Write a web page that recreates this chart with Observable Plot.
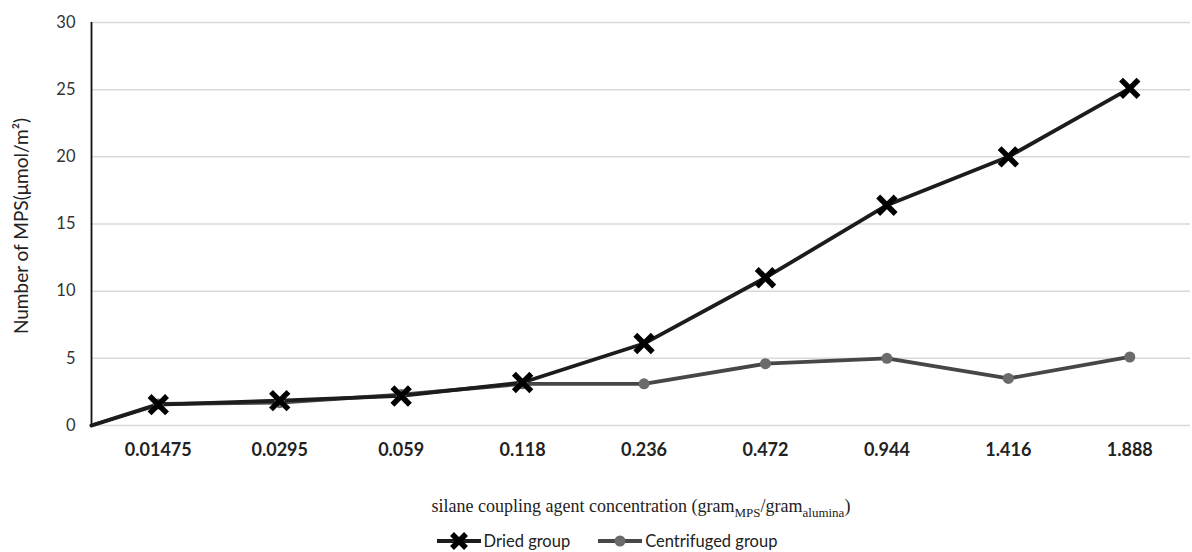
<!DOCTYPE html>
<html>
<head>
<meta charset="utf-8">
<script src="https://cdn.jsdelivr.net/npm/d3@7"></script>
<script src="https://cdn.jsdelivr.net/npm/@observablehq/plot@0.6"></script>
<style>
  html, body { margin: 0; padding: 0; background: #fff; }
  #wrap { width: 1192px; }
  #xtitle { font-family: "Liberation Serif", "Times New Roman", serif; font-size: 18px; color: #222;
            text-align: center; line-height: 22px; height: 22px; margin-top: 25px; padding-left: 90px; box-sizing: border-box; width: 1192px; }
  #xtitle sub { font-size: 13px; vertical-align: -5px; line-height: 0; }
  #legend { font-family: Lato, "Open Sans", sans-serif; font-size: 16.5px; color: #222; display: flex; justify-content: center;
            align-items: center; height: 22px; margin-top: 13px; padding-left: 20px; box-sizing: border-box; width: 1192px; }
  .item { display: flex; align-items: center; margin: 0 13px; }
  .item svg { margin-right: 1px; }
</style>
</head>
<body>
<div id="wrap">
  <div id="chart"></div>
  <div id="xtitle">silane coupling agent concentration (gram<sub>MPS</sub>/gram<sub>alumina</sub>)</div>
  <div id="legend"></div>
</div>
<script>
// ---- data ----
const categories = ["0.01475", "0.0295", "0.059", "0.118", "0.236", "0.472", "0.944", "1.416", "1.888"];
const driedValues = [1.55, 1.85, 2.2, 3.2, 6.1, 11.0, 16.4, 20.0, 25.1];
const centrifugedValues = [1.6, 1.7, 2.3, 3.1, 3.1, 4.6, 5.0, 3.5, 5.1];
const startValue = 0;            // both series begin at zero on the axis
const yTicks = [0, 5, 10, 15, 20, 25, 30];
const seriesNames = ["Dried group", "Centrifuged group"];

// ---- build table ----
const xDomain = [-0.55, 8.5];
const x0 = xDomain[0];
function seriesRows(values, name) {
  return [{i: x0, v: startValue, s: name}].concat(values.map((v, i) => ({i, v, s: name})));
}
const dried = seriesRows(driedValues, seriesNames[0]);
const centrifuged = seriesRows(centrifugedValues, seriesNames[1]);

const font = "Lato, 'Open Sans', sans-serif";

const chart = Plot.plot({
  width: 1192,
  height: 470,
  marginTop: 22,
  marginBottom: 45,
  marginLeft: 91,
  marginRight: 2,
  style: {fontFamily: font, background: "#fff", color: "#333"},
  x: {type: "linear", domain: xDomain, axis: null},
  y: {domain: [0, 30], axis: null},
  marks: [
    Plot.gridY(yTicks, {stroke: "#d9d9d9", strokeOpacity: 1, strokeWidth: 1.5}),
    Plot.ruleX([x0], {y1: 0, y2: 30, stroke: "#111", strokeWidth: 1.8}),
    Plot.axisY(yTicks, {tickSize: 0, tickPadding: 16, fontSize: 16.5, fill: "#333", label: null}),
    Plot.axisX(d3.range(categories.length), {
      tickSize: 0, tickPadding: 18, fontSize: 18, fontWeight: "bold", fill: "#222",
      tickFormat: i => categories[i], label: null
    }),
    Plot.text(["Number of MPS(μmol/m²)"], {
      frameAnchor: "left", textAnchor: "middle", rotate: -90, dx: -70, dy: 2, fontSize: 19, fill: "#222"
    }),
    Plot.line(centrifuged, {x: "i", y: "v", stroke: "#474747", strokeWidth: 3.8}),
    Plot.line(dried, {x: "i", y: "v", stroke: "#1c1c1c", strokeWidth: 3.8}),
    Plot.dot(centrifuged.filter(d => d.i >= 0), {x: "i", y: "v", r: 5.5, fill: "#6b6b6b", stroke: "none"}),
    Plot.dot(dried.filter(d => d.i >= 0), {x: "i", y: "v", symbol: "times", r: 8, stroke: "#000", strokeWidth: 5.5})
  ]
});
document.getElementById("chart").appendChild(chart);

// ---- legend ----
const legend = document.getElementById("legend");
const swatches = [
  `<svg width="48" height="22"><line x1="2" y1="11" x2="46" y2="11" stroke="#1c1c1c" stroke-width="4"/>
     <path d="M17,4L31,18M31,4L17,18" stroke="#000" stroke-width="5.5"/></svg>`,
  `<svg width="48" height="22"><line x1="2" y1="11" x2="46" y2="11" stroke="#474747" stroke-width="4"/>
     <circle cx="24" cy="11" r="5.5" fill="#6b6b6b"/></svg>`
];
seriesNames.forEach((name, k) => {
  const item = document.createElement("div");
  item.className = "item";
  item.innerHTML = swatches[k] + `<span>${name}</span>`;
  legend.appendChild(item);
});
</script>
</body>
</html>
